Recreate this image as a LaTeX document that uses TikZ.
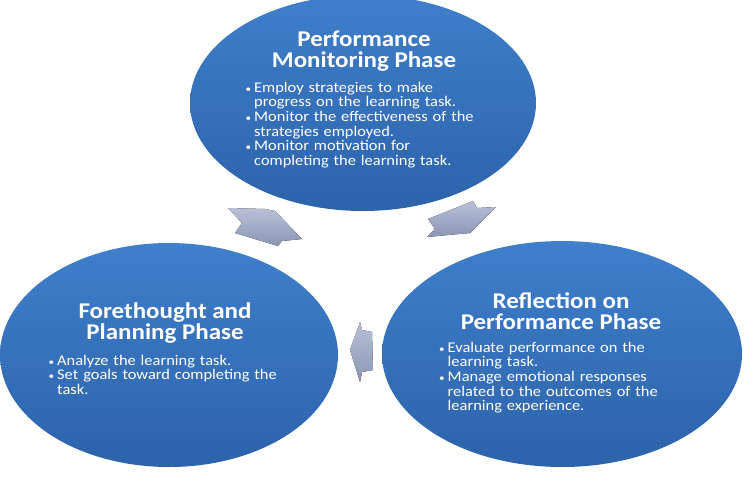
\documentclass[tikz,border=0pt]{standalone}
\usepackage{fontspec}
\setmainfont{Carlito}[FakeStretch=1.11]
\usepackage{enumitem}
\usetikzlibrary{shapes.geometric,positioning,calc}
\definecolor{phtop}{HTML}{3F7FCB}
\definecolor{phbot}{HTML}{2C63AA}
\definecolor{artop}{HTML}{B9C1D8}
\definecolor{arbot}{HTML}{8B95B3}
\tikzset{
  phase/.style={ellipse, inner sep=0pt, draw=none, top color=phtop, bottom color=phbot},
  ptitle/.style={text=white, font=\fontsize{22.5}{21.5}\selectfont\bfseries, align=center, inner sep=0pt},
  pbullets/.style={text=white, font=\fontsize{14.8}{14.6}\selectfont, text width=#1, anchor=north west, inner sep=0pt},
  cyclearrow/.style={draw=none, top color=artop, bottom color=arbot}
}
\newcommand{\blist}[1]{\begin{itemize}[leftmargin=8pt,labelsep=3pt,itemsep=0pt,topsep=0pt,parsep=0pt,partopsep=0pt,label={\fontsize{10}{10}\selectfont\textbullet}]#1\end{itemize}}

\begin{document}
\begin{tikzpicture}[x=1pt,y=-1pt]
    \useasboundingbox (0,0) rectangle (755,490);
    \clip (0,0) rectangle (755,490);

    \node[phase, minimum width=346pt, minimum height=216pt] (perf) at (363,103) {};
    \node[phase, minimum width=338pt, minimum height=224pt] (fore) at (169,355) {};
    \node[phase, minimum width=360pt, minimum height=226pt] (refl) at (562,354) {};

    \node[ptitle] (perft) at (364,51) {Performance\\Monitoring Phase};
    \node[ptitle] (foret) at (165,323) {Forethought and\\Planning Phase};
    \node[ptitle] (reflt) at (561,311) {Reflection on\\Performance Phase};

    \node[pbullets=260pt] (perfb) at (246,77.5) {\blist{%
      \item Employ strategies to make\\progress on the learning task.
      \item Monitor the effectiveness of the\\strategies employed.
      \item Monitor motivation for\\completing the learning task.}};
    \node[pbullets=260pt] (foreb) at (49,350.5) {\blist{%
      \item Analyze the learning task.
      \item Set goals toward completing the\\task.}};
    \node[pbullets=260pt] (reflb) at (439.5,337.5) {\blist{%
      \item Evaluate performance on the\\learning task.
      \item Manage emotional responses\\related to the outcomes of the\\learning experience.}};

    % cycle arrows
    \fill[cyclearrow] (228,208) -- (265,209) -- (275,211) -- (302,239) -- (282,241)
        -- (278,246) -- (235,233) -- (242,223) -- cycle;
    \fill[cyclearrow] (428,219) -- (473,201) -- (477,208) -- (496,207) -- (470,233)
        -- (427,237) -- (435,229) -- cycle;
    \fill[cyclearrow] (350,350) -- (360,322) -- (362,330) -- (372,332) -- (373,370)
        -- (362,372) -- (360,382) -- cycle;
\end{tikzpicture}
\end{document}
